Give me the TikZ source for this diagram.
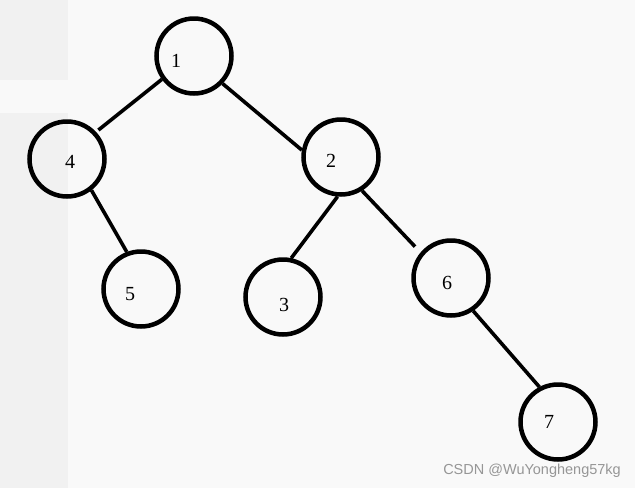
\documentclass[tikz,border=0pt]{standalone}
\usepackage{fontspec}
\newfontfamily\markfont{Liberation Sans}
\newfontfamily\digitfont{Liberation Serif}
\usepackage{tikz}
\definecolor{bggray}{RGB}{249,249,249}
\definecolor{stripgray}{RGB}{241,241,241}
\definecolor{markgray}{RGB}{150,150,150}

\begin{document}
\begin{tikzpicture}[
    x=1pt, y=-1pt,
    vertex/.style={circle, draw, line width=4.5pt, minimum size=75pt, inner sep=0pt},
    num/.style={font=\digitfont\fontsize{20}{22}\selectfont},
    edge/.style={line width=3.6pt}
]
% background of the screenshot
\fill[bggray] (0,0) rectangle (635,488);
\fill[stripgray] (0,0) rectangle (68,80);
\fill[stripgray] (0,113) rectangle (68,488);
\useasboundingbox (0,0) rectangle (635,488);

% vertices
\node[vertex] (n1) at (194,56) {};
\node[vertex] (n4) at (67,159) {};
\node[vertex] (n2) at (341,157) {};
\node[vertex] (n5) at (141,289) {};
\node[vertex] (n3) at (283,297) {};
\node[vertex] (n6) at (451,278) {};
\node[vertex] (n7) at (558,422) {};

% labels, set a little off the centres as in the drawing
\node[num] (t1) at (176,61) {1};
\node[num] (t4) at (70,162) {4};
\node[num] (t2) at (331,161) {2};
\node[num] (t5) at (130,294) {5};
\node[num] (t3) at (284,305) {3};
\node[num] (t6) at (447,283) {6};
\node[num] (t7) at (549,422) {7};

% edges
\draw[edge, shorten >=3pt] (n1.216) -- (n4.43);
\draw[edge] (n1.316) -- (n2.170);
\draw[edge] (n4.308) -- (n5.111);
\draw[edge] (n2.265) -- (n3.78);
\draw[edge, shorten >=8pt] (n2.302) -- (n6.140);
\draw[edge] (n6.304) -- (n7.118);

% watermark
\node[font=\markfont\fontsize{14.5}{16}\selectfont, text=markgray, anchor=east, inner sep=0pt] (mark) at (621,471) {CSDN @WuYongheng57kg};
\end{tikzpicture}
\end{document}
